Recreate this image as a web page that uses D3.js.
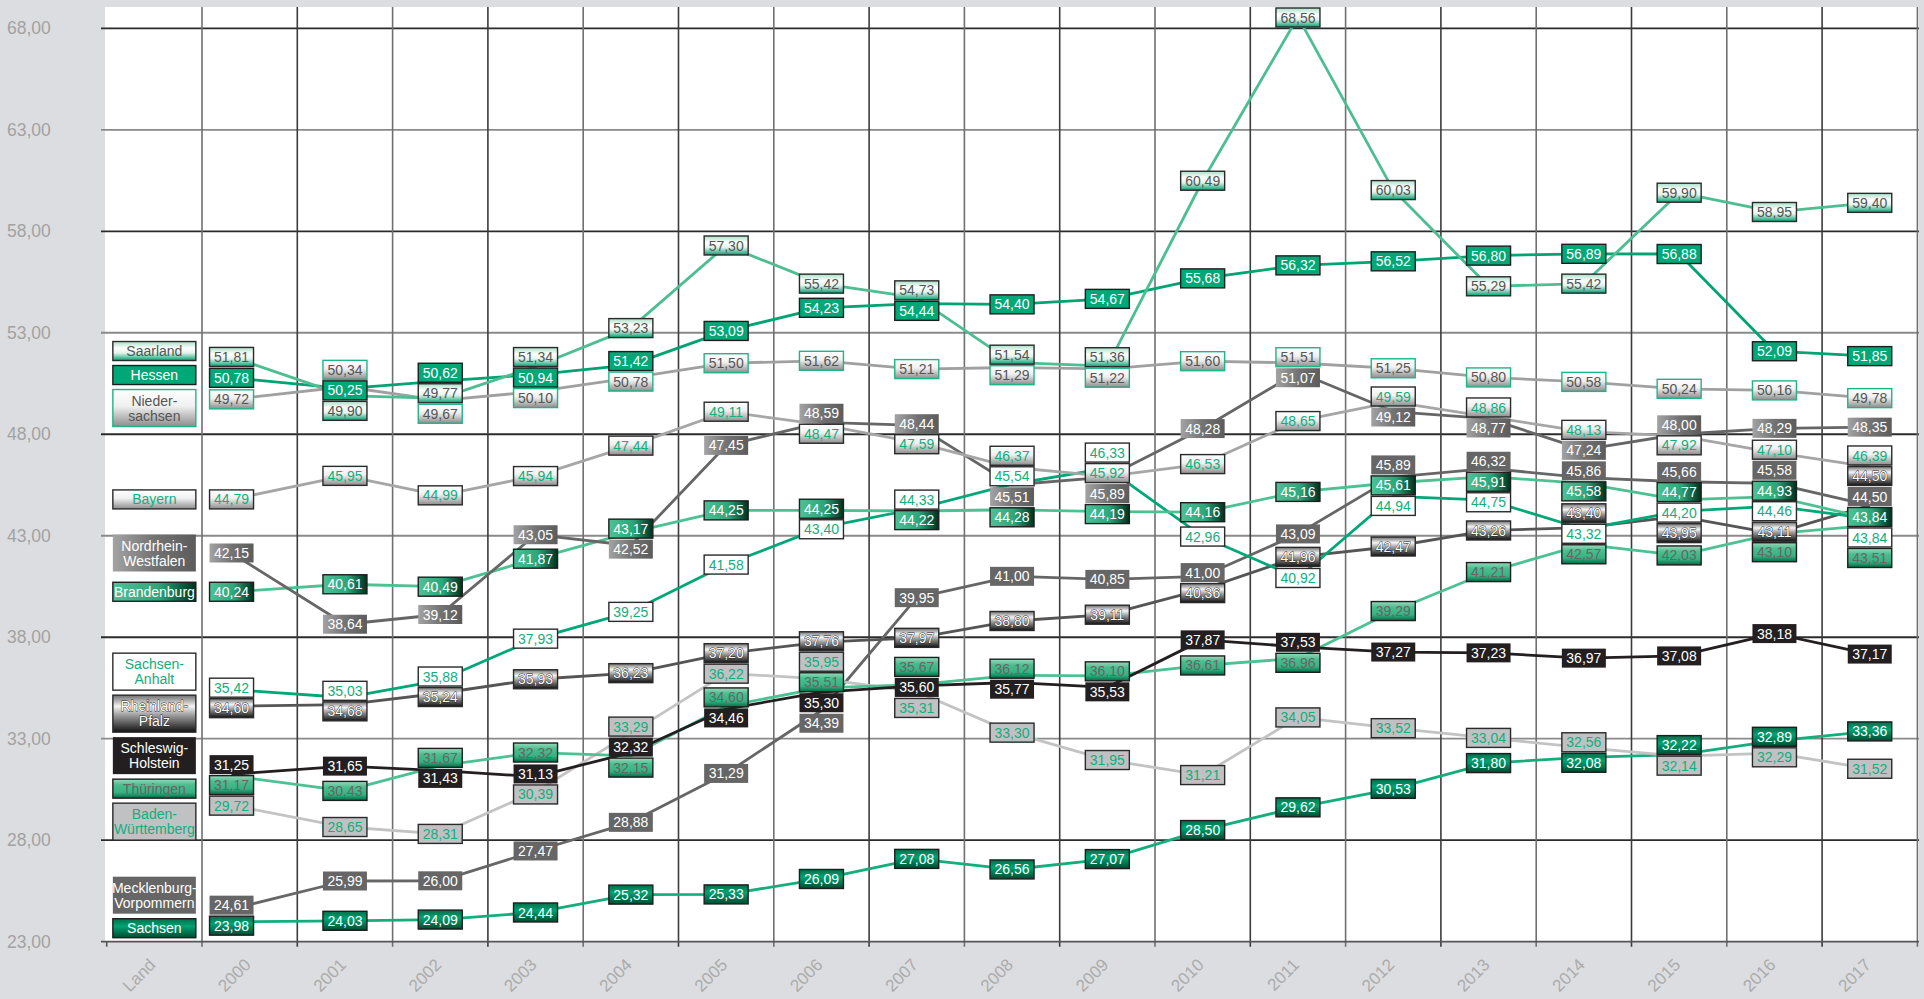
<!DOCTYPE html>
<html>
<head>
<meta charset="utf-8">
<script src="https://cdn.jsdelivr.net/npm/d3@7"></script>
<style>
  body { margin: 0; background: #dcdde0; }
  svg { display: block; font-family: "Liberation Sans", Arial, sans-serif; }
</style>
</head>
<body>
<svg></svg>
<script>
// Years (columns after the "Land" column)
const years = ["2000","2001","2002","2003","2004","2005","2006","2007","2008",
               "2009","2010","2011","2012","2013","2014","2015","2016","2017"];

// Values per Land, 2000 .. 2017
const saarland        = [51.81,49.90,49.77,51.34,53.23,57.30,55.42,54.73,51.54,51.36,60.49,68.56,60.03,55.29,55.42,59.90,58.95,59.40];
const hessen          = [50.78,50.25,50.62,50.94,51.42,53.09,54.23,54.44,54.40,54.67,55.68,56.32,56.52,56.80,56.89,56.88,52.09,51.85];
const niedersachsen   = [49.72,50.34,49.67,50.10,50.78,51.50,51.62,51.21,51.29,51.22,51.60,51.51,51.25,50.80,50.58,50.24,50.16,49.78];
const bayern          = [44.79,45.95,44.99,45.94,47.44,49.11,48.47,47.59,46.37,45.92,46.53,48.65,49.59,48.86,48.13,47.92,47.10,46.39];
const nordrheinWestf  = [42.15,38.64,39.12,43.05,42.52,47.45,48.59,48.44,45.51,45.89,48.28,51.07,49.12,48.77,47.24,48.00,48.29,48.35];
const brandenburg     = [40.24,40.61,40.49,41.87,43.17,44.25,44.25,44.22,44.28,44.19,44.16,45.16,45.61,45.91,45.58,44.77,44.93,43.84];
const sachsenAnhalt   = [35.42,35.03,35.88,37.93,39.25,41.58,43.40,44.33,45.54,46.33,42.96,40.92,44.94,44.75,43.32,44.20,44.46,43.84];
const rheinlandPfalz  = [34.60,34.68,35.24,35.93,36.23,37.20,37.76,37.97,38.80,39.11,40.36,41.96,42.47,43.26,43.40,43.95,43.11,44.50];
const schleswigHolst  = [31.25,31.65,31.43,31.13,32.32,34.46,35.30,35.60,35.77,35.53,37.87,37.53,37.27,37.23,36.97,37.08,38.18,37.17];
const thueringen      = [31.17,30.43,31.67,32.32,32.15,34.60,35.51,35.67,36.12,36.10,36.61,36.96,39.29,41.21,42.57,42.03,43.10,43.51];
const badenWuertt     = [29.72,28.65,28.31,30.39,33.29,36.22,35.95,35.31,33.30,31.95,31.21,34.05,33.52,33.04,32.56,32.14,32.29,31.52];
const mecklenburgVorp = [24.61,25.99,26.00,27.47,28.88,31.29,34.39,39.95,41.00,40.85,41.00,43.09,45.89,46.32,45.86,45.66,45.58,44.50];
const sachsen         = [23.98,24.03,24.09,24.44,25.32,25.33,26.09,27.08,26.56,27.07,28.50,29.62,30.53,31.80,32.08,32.22,32.89,33.36];

// Y axis ticks
const yTicks = [23, 28, 33, 38, 43, 48, 53, 58, 63, 68];

// Series in legend order
const series = [
  { label: ["Saarland"],                   values: saarland,        look: "saar" },
  { label: ["Hessen"],                     values: hessen,          look: "hessen" },
  { label: ["Nieder-", "sachsen"],         values: niedersachsen,   look: "nds" },
  { label: ["Bayern"],                     values: bayern,          look: "bayern" },
  { label: ["Nordrhein-", "Westfalen"],    values: nordrheinWestf,  look: "nrw" },
  { label: ["Brandenburg"],                values: brandenburg,     look: "bra" },
  { label: ["Sachsen-", "Anhalt"],         values: sachsenAnhalt,   look: "sa" },
  { label: ["Rheinland-", "Pfalz"],        values: rheinlandPfalz,  look: "rp" },
  { label: ["Schleswig-", "Holstein"],     values: schleswigHolst,  look: "sh" },
  { label: ["Thüringen"],                  values: thueringen,      look: "thu" },
  { label: ["Baden-", "Württemberg"],      values: badenWuertt,     look: "bw" },
  { label: ["Mecklenburg-", "Vorpommern"], values: mecklenburgVorp, look: "mv" },
  { label: ["Sachsen"],                    values: sachsen,         look: "sachsen" }
];

// Box / line styling per Land
const looks = {
  saar:    { line: "#4dbd92", fill: "url(#g-saar)",    stroke: "#2a2a2a", text: "#555" },
  hessen:  { line: "#00a372", fill: "#00a878",         stroke: "#1e1e1e", text: "#fff" },
  nds:     { line: "#a0a0a0", fill: "url(#g-silver)",  stroke: "#1fb486", text: "#555" },
  bayern:  { line: "#a6a6a6", fill: "url(#g-silver)",  stroke: "#2a2a2a", text: "#14ad7c" },
  nrw:     { line: "#666666", fill: "url(#g-nrw)",     stroke: "none",    text: "#fff" },
  bra:     { line: "#4cc193", fill: "url(#g-bra)",     stroke: "#1e1e1e", text: "#fff" },
  sa:      { line: "#00a878", fill: "#ffffff",         stroke: "#2a2a2a", text: "#14ad7c" },
  rp:      { line: "#555555", fill: "url(#g-chrome)",  stroke: "#2a2a2a", text: "#fff", halo: true },
  sh:      { line: "#231f20", fill: "#231f20",         stroke: "none",    text: "#fff" },
  thu:     { line: "#4cc193", fill: "url(#g-thu)",     stroke: "#1e1e1e", text: "#666" },
  bw:      { line: "#c3c3c3", fill: "#c0c1c3",         stroke: "#2a2a2a", text: "#14ad7c" },
  mv:      { line: "#666666", fill: "#666666",         stroke: "none",    text: "#fff" },
  sachsen: { line: "#14ad7c", fill: "url(#g-sachsen)", stroke: "#1e1e1e", text: "#fff" }
};

const W = 1924, H = 999;
const de = d3.formatLocale({ decimal: ",", thousands: ".", grouping: [3], currency: ["", " €"] });
const fmt = de.format(".2f");

const svg = d3.select("svg").attr("width", W).attr("height", H);

// gradients
const defs = svg.append("defs");
function gradient(id, horizontal, stops) {
  const g = defs.append("linearGradient").attr("id", id)
      .attr("x1", 0).attr("y1", 0)
      .attr("x2", horizontal ? 1 : 0).attr("y2", horizontal ? 0 : 1);
  stops.forEach(s => g.append("stop").attr("offset", s[0]).attr("stop-color", s[1]));
}
gradient("g-saar", false,   [[0, "#a9e0c8"], [0.35, "#ffffff"], [0.6, "#e2f3eb"], [1, "#00a070"]]);
gradient("g-silver", false, [[0, "#ffffff"], [0.45, "#f0f0f0"], [1, "#8c8c8c"]]);
gradient("g-nrw", true,     [[0, "#a3a3a3"], [0.5, "#737373"], [1, "#5c5c5c"]]);
gradient("g-bra", true,     [[0, "#4fc196"], [0.55, "#2ea57a"], [1, "#00301e"]]);
gradient("g-chrome", false, [[0, "#6e6e6e"], [0.3, "#f4f4f4"], [0.55, "#9a9a9a"], [1, "#111111"]]);
gradient("g-thu", false,    [[0, "#9ad9bd"], [0.3, "#4cbd8f"], [0.7, "#36b282"], [1, "#006b45"]]);
gradient("g-sachsen", false,[[0, "#006f4a"], [0.4, "#00a373"], [1, "#004a30"]]);

// scales
const cols = ["Land"].concat(years);
const x = d3.scaleBand().domain(cols).range([106.7, 1917.4]);
const y = d3.scaleLinear().domain([23, 68]).range([941.7, 28.3]);
const bw = x.bandwidth();
const axisY = y(23);
const xPos = yr => x(yr) + bw * (yr === "2000" ? 0.31 : 0.5);

// plot background
svg.append("rect").attr("x", 105).attr("y", 7)
    .attr("width", 1919 - 105).attr("height", axisY - 7).attr("fill", "#fff");

// horizontal grid
svg.append("g").selectAll("line").data(yTicks.filter(t => t > 23)).join("line")
    .attr("x1", 101).attr("x2", 1919)
    .attr("y1", d => y(d)).attr("y2", d => y(d))
    .attr("stroke", d => ((68 - d) / 5) % 2 === 0 ? "#2b2b2b" : "#8a8a8a")
    .attr("stroke-width", 1.8);

// vertical grid
const bounds = years.map(c => x(c)).concat([x.range()[1]]);
svg.append("g").selectAll("line").data(bounds).join("line")
    .attr("x1", d => d).attr("x2", d => d)
    .attr("y1", 7).attr("y2", axisY + 5)
    .attr("stroke", (d, i) => i % 2 ? "#3c3c3c" : "#707070")
    .attr("stroke-width", 1.6);

// x axis line + ticks
svg.append("line").attr("x1", 101).attr("x2", 1919)
    .attr("y1", axisY).attr("y2", axisY)
    .attr("stroke", "#555").attr("stroke-width", 1.8);
svg.append("line").attr("x1", x("Land")).attr("x2", x("Land"))
    .attr("y1", axisY).attr("y2", axisY + 5)
    .attr("stroke", "#555").attr("stroke-width", 1.6);

// y tick labels
svg.append("g").selectAll("text").data(yTicks).join("text")
    .attr("x", 7).attr("y", d => y(d))
    .attr("dy", "0.35em")
    .style("font-size", "17.5px")
    .attr("fill", "#a2a2a2")
    .text(d => fmt(d));

// x labels, rotated
svg.append("g").selectAll("text").data(cols).join("text")
    .attr("transform", d => `translate(${x(d) + bw / 2 - 2},${axisY + 20}) rotate(-45)`)
    .attr("text-anchor", "end")
    .attr("dy", "0.35em")
    .style("font-size", "17px")
    .attr("fill", "#ababab")
    .text(d => d);

// spread overlapping boxes apart (cluster around the mean of their targets)
function spread(items, gap, lo, hi) {
  const sorted = items.slice().sort((a, b) => a.target - b.target || a.order - b.order);
  const blocks = [];
  function place(b) {
    let off = 0, sum = 0;
    b.items.forEach(it => { it.off = off + it.h / 2; sum += it.target - it.off; off += it.h + gap; });
    b.size = off - gap;
    b.top = Math.max(lo, Math.min(hi - b.size, sum / b.items.length));
  }
  sorted.forEach(it => {
    const b = { items: [it] };
    place(b);
    blocks.push(b);
    while (blocks.length > 1) {
      const p = blocks[blocks.length - 2], c = blocks[blocks.length - 1];
      if (p.top + p.size + gap > c.top) {
        p.items = p.items.concat(c.items);
        blocks.pop();
        place(p);
      } else break;
    }
  });
  blocks.forEach(b => b.items.forEach(it => { it.pos = b.top + it.off; }));
  return items;
}

// lines
const line = d3.line().x((d, i) => xPos(years[i])).y(d => y(d));
svg.append("g").selectAll("path").data(series.slice().reverse()).join("path")
    .attr("d", d => line(d.values))
    .attr("fill", "none")
    .attr("stroke", d => looks[d.look].line)
    .attr("stroke-width", 2.8)
    .attr("stroke-linejoin", "round");

// value boxes
const boxW = 44, boxH = 19;
const labels = [];
years.forEach((yr, j) => {
  const col = series.map((s, i) => ({ s, order: i, v: s.values[j], target: y(s.values[j]), h: boxH, yr }));
  spread(col, 1.5, 8, axisY - 2);
  labels.push(...col);
});

function drawBox(g, d, w, h) {
  const lk = looks[d.s.look];
  g.append("rect")
      .attr("x", -w / 2).attr("y", -h / 2)
      .attr("width", w).attr("height", h)
      .attr("fill", lk.fill)
      .attr("stroke", lk.stroke)
      .attr("stroke-width", 1.4);
}

const vb = svg.append("g").selectAll("g").data(labels).join("g")
    .attr("transform", d => `translate(${xPos(d.yr)},${d.pos})`);
vb.each(function(d) { drawBox(d3.select(this), d, boxW, boxH); });
vb.append("text")
    .attr("text-anchor", "middle")
    .attr("dy", "0.36em")
    .style("font-size", "14px")
    .attr("fill", d => looks[d.s.look].text)
    .attr("stroke", d => looks[d.s.look].halo ? "#222" : null)
    .attr("stroke-width", 0.8)
    .attr("paint-order", "stroke")
    .text(d => fmt(d.v));

// legend in the "Land" column, placed next to the 2000 values
const legendItems = series.map((s, i) => ({ s, order: i, target: y(s.values[0]), h: s.label.length > 1 ? 37 : 19 }));
spread(legendItems, 5, 8, axisY - 4);

const lg = svg.append("g").selectAll("g").data(legendItems).join("g")
    .attr("transform", d => `translate(${x("Land") + bw / 2},${d.pos})`);
lg.each(function(d) { drawBox(d3.select(this), d, 83, d.h); });
lg.append("text")
    .attr("text-anchor", "middle")
    .style("font-size", "14px")
    .attr("fill", d => looks[d.s.look].text)
    .attr("stroke", d => looks[d.s.look].halo ? "#222" : null)
    .attr("stroke-width", 0.8)
    .attr("paint-order", "stroke")
    .selectAll("tspan").data(d => d.s.label.map((t, k) => ({ t, k, n: d.s.label.length }))).join("tspan")
    .attr("x", 0)
    .attr("y", t => (t.k - (t.n - 1) / 2) * 15)
    .attr("dy", "0.36em")
    .text(t => t.t);
</script>
</body>
</html>
